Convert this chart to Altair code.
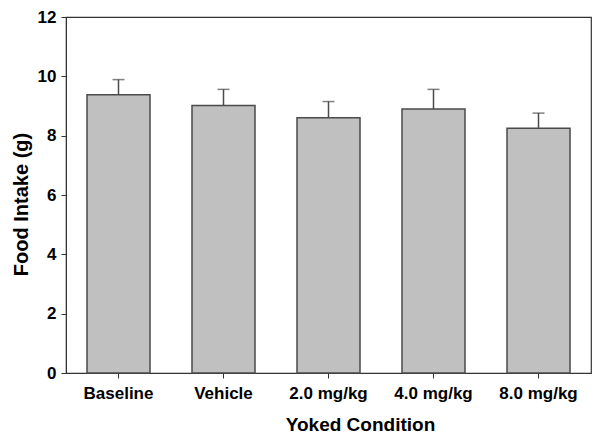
import altair as alt
import pandas as pd

conditions = ["Baseline", "Vehicle", "2.0 mg/kg", "4.0 mg/kg", "8.0 mg/kg"]
means = [9.38, 9.02, 8.60, 8.90, 8.25]
sems = [0.51, 0.54, 0.55, 0.66, 0.51]

df = pd.DataFrame({"cond": conditions, "mean": means, "sem": sems})
df["upper"] = df["mean"] + df["sem"]

FONT = "Liberation Sans"
AX = "#333333"

x = alt.X("cond:N", sort=conditions,
          scale=alt.Scale(paddingInner=0.4, paddingOuter=0.2),
          axis=alt.Axis(title="Yoked Condition", labelAngle=0, labelFont=FONT,
                        labelFontSize=17, labelFontWeight="bold", labelColor="black",
                        labelPadding=7, tickSize=5, tickColor=AX, domainColor=AX,
                        titleFont=FONT, titleFontSize=19, titleFontWeight="bold",
                        titleColor="black", titleX=294, titleY=57,
                        titleBaseline="alphabetic"))

y_axis = alt.Axis(title="Food Intake (g)", values=[0, 2, 4, 6, 8, 10, 12], grid=False,
                  labelFont=FONT, labelFontSize=17, labelFontWeight="bold",
                  labelColor="black", labelPadding=5, tickSize=5, tickColor=AX,
                  domainColor=AX, titleFont=FONT, titleFontSize=20,
                  titleFontWeight="bold", titleColor="black", titleAngle=-90,
                  titleX=-39, titleY=187, titleBaseline="alphabetic", titleAlign="center")

bars = alt.Chart(df).mark_bar(color="#c0c0c0", stroke="#4a4a4a", strokeWidth=1.5).encode(
    x=x,
    y=alt.Y("mean:Q", scale=alt.Scale(domain=[0, 12], nice=False), axis=y_axis),
)

err = alt.Chart(df).mark_rule(color="#4a4a4a", strokeWidth=1.5).encode(
    x=alt.X("cond:N", sort=conditions),
    y="mean:Q",
    y2="upper:Q",
)

caps = alt.Chart(df).mark_tick(color="#4a4a4a", thickness=1.5, size=12, orient="horizontal").encode(
    x=alt.X("cond:N", sort=conditions),
    y="upper:Q",
)

chart = (bars + err + caps).properties(
    width=525, height=356,
    autosize=alt.AutoSizeParams(type="none"),
    padding={"left": 58, "top": 9, "right": 1, "bottom": 62},
).configure_view(stroke=AX, strokeWidth=1.2)

chart.save("out.html", embed_options={"renderer": "svg", "actions": False})
